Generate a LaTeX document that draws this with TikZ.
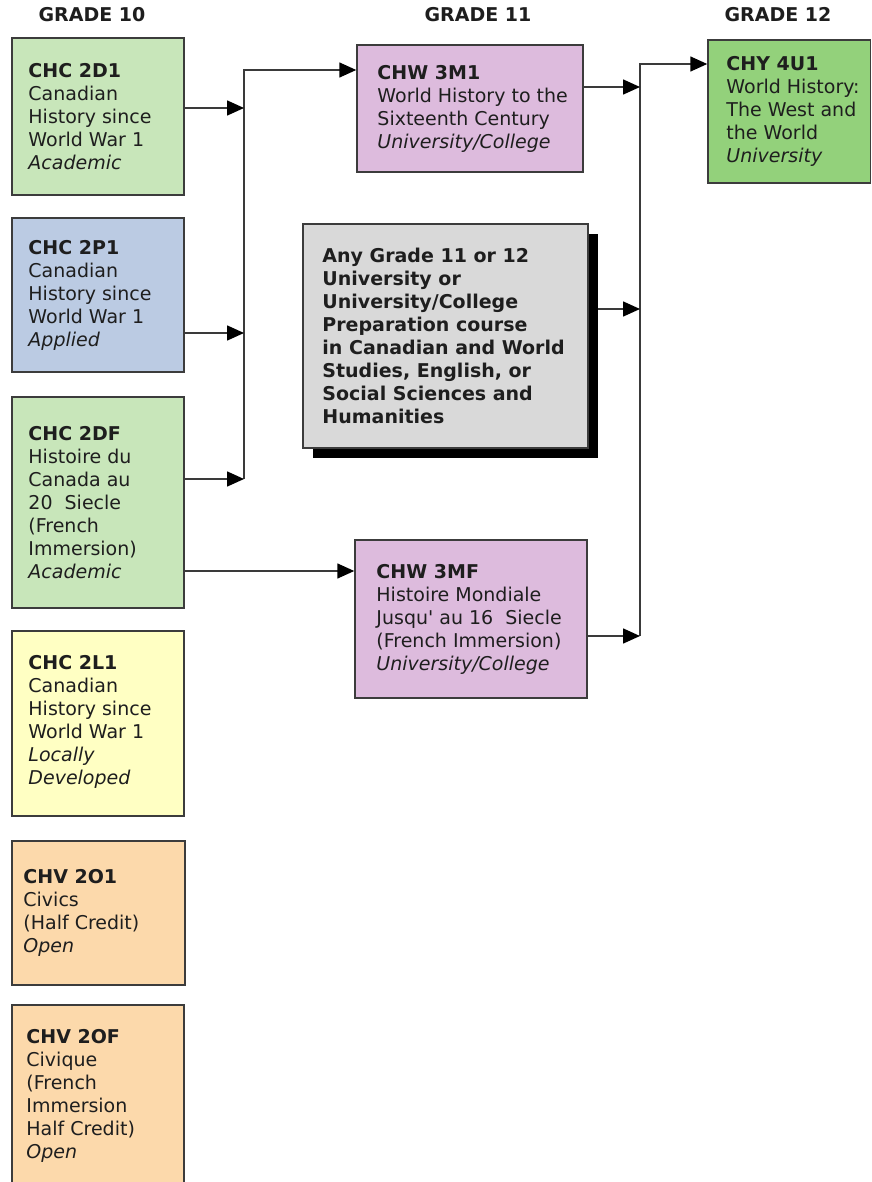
\documentclass[tikz,border=0pt]{standalone}
\usepackage{fontspec}
\setmainfont{DejaVu Sans}
\usetikzlibrary{arrows.meta}
\definecolor{grn}{HTML}{C8E6BA}
\definecolor{blu}{HTML}{BBCBE3}
\definecolor{pur}{HTML}{DDBBDD}
\definecolor{dgr}{HTML}{93D17B}
\definecolor{gry}{HTML}{D9D9D9}
\definecolor{yel}{HTML}{FFFFC3}
\definecolor{pch}{HTML}{FCD9AB}
\definecolor{bordc}{HTML}{3C3C3C}
\definecolor{linec}{HTML}{3A3A3A}
\definecolor{txtc}{HTML}{1E1E1E}
\begin{document}
\begin{tikzpicture}[x=1pt,y=-1pt,
  font=\fontsize{19}{23}\selectfont,
  box/.style={draw=bordc, line width=1.5pt, rectangle, inner sep=0pt},
  txt/.style={inner sep=0pt, align=left, anchor=west, text=txtc},
  hdr/.style={inner sep=0pt, text=txtc, font=\fontsize{19}{23}\selectfont\bfseries},
  conn/.style={draw=linec, line width=1.6pt},
  arr/.style={conn, -{Triangle[length=17pt,width=15pt,color=black]}}]
\clip (0,0) rectangle (871,1182);
\fill[white] (0,0) rectangle (871,1182);

% headers
\node[hdr] (h10) at (92,15) {GRADE 10};
\node[hdr] (h11) at (478,15) {GRADE 11};
\node[hdr] (h12) at (778,15) {GRADE 12};

% grade 10 boxes
\node[box, fill=grn, minimum width=172pt, minimum height=157pt] (d1) at (98,116.5) {};
\node[txt] (d1t) at ([xshift=17pt]d1.west) {\textbf{CHC 2D1}\\Canadian\\History since\\World War 1\\\textit{Academic}};

\node[box, fill=blu, minimum width=172pt, minimum height=154pt] (p1) at (98,295) {};
\node[txt] (p1t) at ([xshift=17pt]p1.west) {\textbf{CHC 2P1}\\Canadian\\History since\\World War 1\\\textit{Applied}};

\node[box, fill=grn, minimum width=172pt, minimum height=211pt] (df) at (98,502.5) {};
\node[txt] (dft) at ([xshift=17pt]df.west) {\textbf{CHC 2DF}\\Histoire du\\Canada au\\20\ \ Siecle\\(French\\Immersion)\\\textit{Academic}};

\node[box, fill=yel, minimum width=172pt, minimum height=185pt] (l1) at (98,723.5) {};
\node[txt] (l1t) at ([xshift=17pt,yshift=2pt]l1.west) {\textbf{CHC 2L1}\\Canadian\\History since\\World War 1\\\textit{Locally}\\\textit{Developed}};

\node[box, fill=pch, minimum width=173pt, minimum height=144pt] (o1) at (98.5,913) {};
\node[txt] (o1t) at ([xshift=12pt]o1.west) {\textbf{CHV 2O1}\\Civics\\(Half Credit)\\\textit{Open}};

\node[box, fill=pch, minimum width=172pt, minimum height=185pt] (of) at (98,1097.5) {};
\node[txt] (oft) at ([xshift=15pt,yshift=1.5pt]of.west) {\textbf{CHV 2OF}\\Civique\\(French\\Immersion\\Half Credit)\\\textit{Open}};

% grade 11 boxes
\node[box, fill=pur, minimum width=226pt, minimum height=127pt] (m1) at (470,108.5) {};
\node[txt] (m1t) at ([xshift=21pt]m1.west) {\textbf{CHW 3M1}\\World History to the\\Sixteenth Century\\\textit{University/College}};

\node[fill=black, inner sep=0pt, minimum width=285pt, minimum height=224pt] (anysh) at (455.5,346) {};
\node[box, fill=gry, minimum width=285pt, minimum height=224pt] (any) at (445.5,336) {};
\node[txt, font=\fontsize{19}{23}\selectfont\bfseries] (anyt) at ([xshift=20pt]any.west) {Any Grade 11 or 12\\University or\\University/College\\Preparation course\\in Canadian and World\\Studies, English, or\\Social Sciences and\\Humanities};

\node[box, fill=pur, minimum width=232pt, minimum height=158pt] (mf) at (471,619) {};
\node[txt] (mft) at ([xshift=22pt]mf.west) {\textbf{CHW 3MF}\\Histoire Mondiale\\Jusqu\textquotesingle\ au 16\ \ Siecle\\(French Immersion)\\\textit{University/College}};

% grade 12 box
\node[box, fill=dgr, minimum width=162.5pt, minimum height=143pt] (hy) at (789.25,111.5) {};
\node[txt] (hyt) at ([xshift=19pt]hy.west) {\textbf{CHY 4U1}\\World History:\\The West and\\the World\\\textit{University}};

% junction coordinates
\coordinate (a0) at (244,70);
\coordinate (a1) at (244,108);
\coordinate (a2) at (244,333);
\coordinate (a3) at (244,479);
\coordinate (c5) at (0,571);
\coordinate (b0) at (640,64);
\coordinate (b1) at (640,87);
\coordinate (b2) at (640,309);
\coordinate (b3) at (640,636);

% connectors
\draw[arr] (a3) -- (a0) -- (m1.west |- a0);
\draw[arr] (d1.east |- a1) -- (a1);
\draw[arr] (p1.east |- a2) -- (a2);
\draw[arr] (df.east |- a3) -- (a3);
\draw[arr] (df.east |- c5) -- (mf.west |- c5);

\draw[arr] (b3) -- (b0) -- (hy.west |- b0);
\draw[arr] (m1.east |- b1) -- (b1);
\draw[arr] (anysh.east |- b2) -- (b2);
\draw[arr] (mf.east |- b3) -- (b3);
\end{tikzpicture}
\end{document}
